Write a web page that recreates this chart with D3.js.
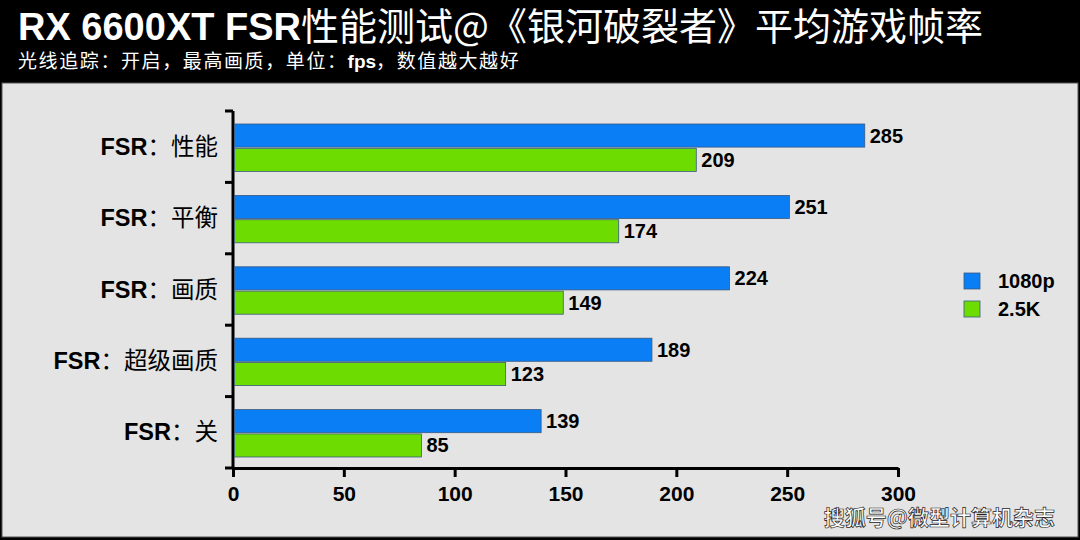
<!DOCTYPE html><html><head><meta charset="utf-8"><script src="https://cdn.jsdelivr.net/npm/d3@7"></script>
<style>body{margin:0;background:#000}svg{display:block}</style></head><body><svg id="c" width="1080" height="540"></svg>
<script>
const categories=["FSR：性能","FSR：平衡","FSR：画质","FSR：超级画质","FSR：关"];
const s1080=[285,251,224,189,139];
const s25k=[209,174,149,123,85];
const seriesNames=["1080p","2.5K"];
const colors=["#0a7ef5","#6ddc00"];
const xTicks=[0,50,100,150,200,250,300];
const svg=d3.select("#c");
const F="Liberation Sans, Arial, sans-serif";
svg.append("rect").attr("width",1080).attr("height",540).attr("fill","#000");
const tt=svg.append("text").attr("x",18).attr("y",40).attr("fill","#fff").attr("font-size",38);
tt.append("tspan").attr("font-family",F).attr("font-weight","bold").text("RX 6600XT FSR");
tt.append("tspan").attr("font-family","Noto Sans CJK SC").text("性能测试@《银河破裂者》平均游戏帧率");
const st=svg.append("text").attr("x",18).attr("y",68).attr("fill","#fff").attr("font-family","Noto Sans CJK SC").attr("font-size",19);
st.append("tspan").attr("letter-spacing",1.6).text("光线追踪：开启，最高画质，单位：");
st.append("tspan").attr("font-family",F).attr("font-weight","bold").text("fps");
st.append("tspan").attr("letter-spacing",1.6).text("，数值越大越好");
svg.append("rect").attr("x",2).attr("y",83).attr("width",1076).attr("height",454).attr("fill","#e4e4e4").attr("stroke","#555");
const x=d3.scaleLinear().domain([0,300]).range([233,898]);
const y=d3.scaleBand().domain(categories).range([111,468]);
const ga=svg.append("g").attr("transform","translate(0,468)").call(d3.axisBottom(x).tickValues(xTicks).tickSize(9).tickSizeOuter(0));
ga.select(".domain").attr("stroke","#000").attr("stroke-width",3);
ga.selectAll(".tick line").attr("stroke","#000").attr("stroke-width",3);
ga.selectAll("text").attr("font-family",F).attr("font-weight","bold").attr("font-size",21).attr("fill","#000").attr("dy","1.0em");
const gy=svg.append("g").attr("transform","translate(233,0)");
gy.append("line").attr("x1",0).attr("x2",0).attr("y1",111).attr("y2",468).attr("stroke","#000").attr("stroke-width",3);
[...categories.map(c=>y(c)),468].forEach(v=>gy.append("line").attr("x1",-8).attr("x2",0).attr("y1",v).attr("y2",v).attr("stroke","#000").attr("stroke-width",3));
categories.forEach((c,i)=>{
  const t=svg.append("text").attr("x",218).attr("y",y(c)+y.bandwidth()/2+8).attr("text-anchor","end").attr("font-size",23.5).attr("fill","#000");
  t.append("tspan").attr("font-family",F).attr("font-weight","bold").text("FSR");
  t.append("tspan").attr("font-family","Noto Sans CJK SC").text(c.slice(3));
});
const inner=d3.scaleBand().domain([0,1]).range([13,y.bandwidth()-11]).paddingInner(0.05);
[s1080,s25k].forEach((arr,k)=>{
  arr.forEach((v,i)=>{
    const yy=y(categories[i])+inner(k);
    svg.append("rect").attr("x",x(0)+1.5).attr("y",yy).attr("width",x(v)-x(0)-1.5).attr("height",inner.bandwidth()).attr("fill",colors[k]).attr("stroke","#3a5a80").attr("stroke-width",0.8);
    svg.append("text").attr("x",x(v)+5).attr("y",yy+inner.bandwidth()/2+7).attr("font-family",F).attr("font-weight","bold").attr("font-size",20).text(v);
  });
});
seriesNames.forEach((n,k)=>{
  svg.append("rect").attr("x",964).attr("y",273+k*28).attr("width",16).attr("height",16).attr("fill",colors[k]).attr("stroke","#3a5a80").attr("stroke-width",0.8);
  svg.append("text").attr("x",998).attr("y",288+k*28).attr("font-family",F).attr("font-weight","bold").attr("font-size",20).text(n);
});
svg.append("text").attr("x",1055).attr("y",525).attr("text-anchor","end").attr("font-family","Noto Sans CJK SC").attr("font-weight","bold").attr("font-size",21).attr("fill","#fff").attr("stroke","#222").attr("stroke-width",0.7).text("搜狐号@微型计算机杂志");
</script></body></html>
